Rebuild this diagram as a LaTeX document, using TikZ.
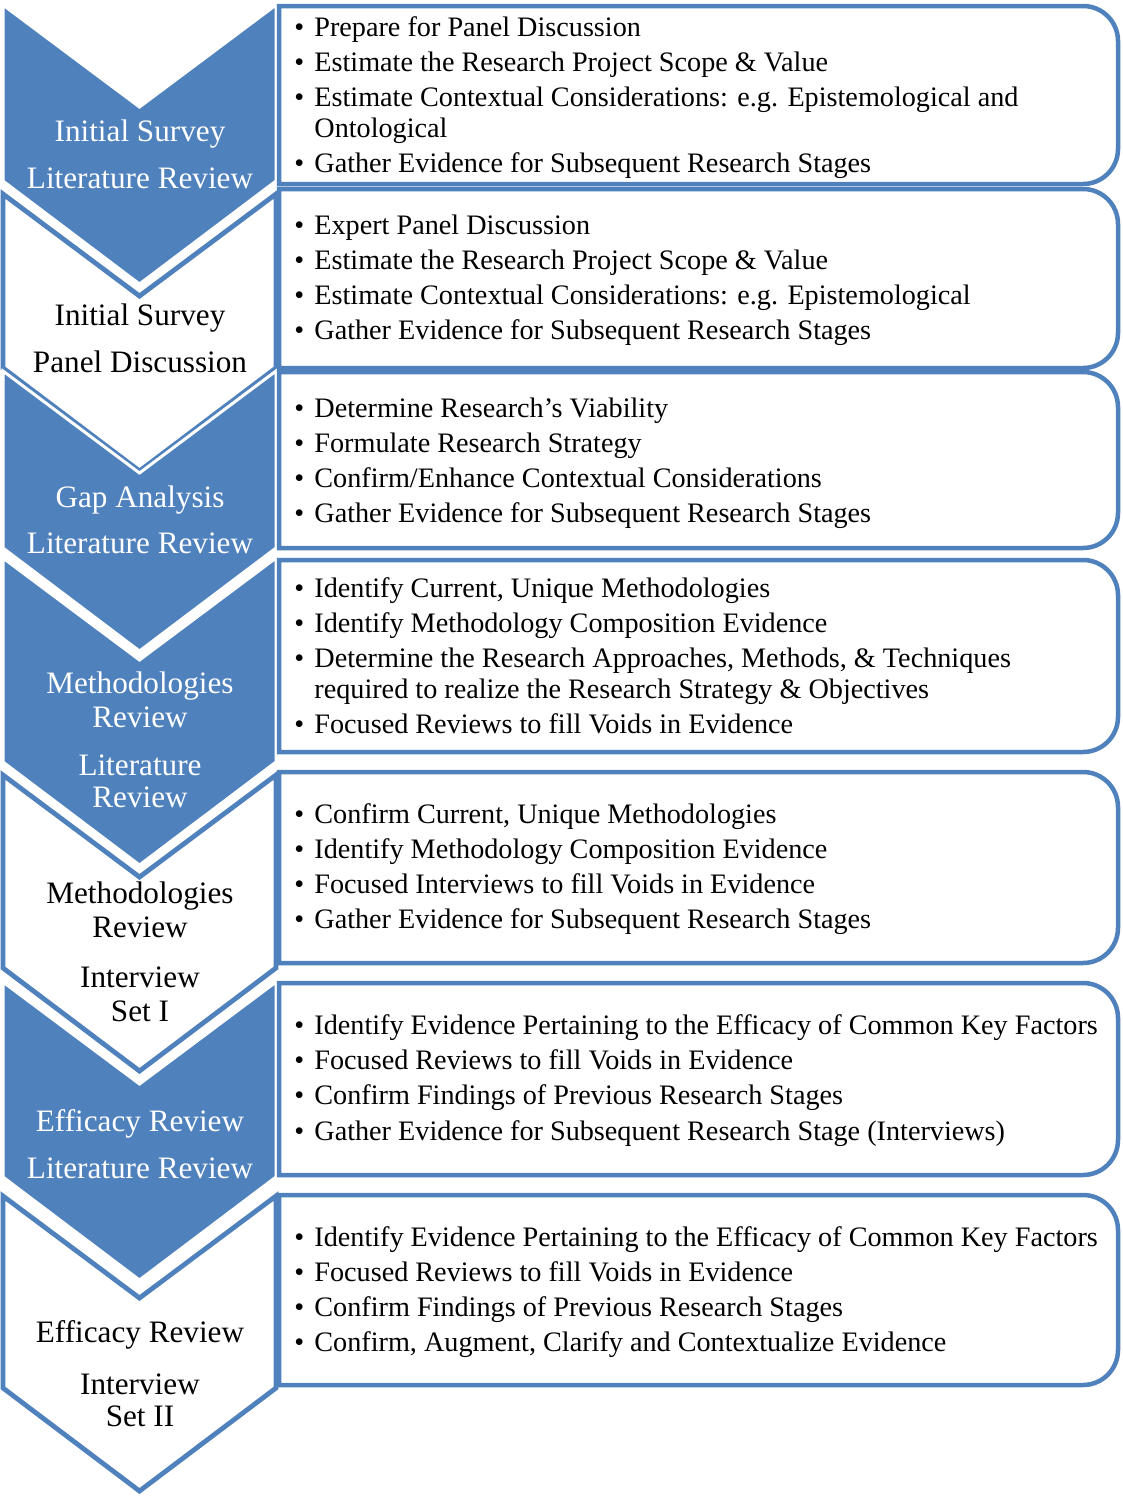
\documentclass[tikz,border=0pt]{standalone}
\usepackage{fontspec}
\setmainfont{Liberation Serif}
\definecolor{accent}{RGB}{79,129,189}
% chevron: #1 style, #2 top corner y, #3 bottom corner y
\newcommand\stagechev[3]{\path[#1] (3,#2) -- (139.5,#2+102) -- (276,#2) -- (276,#3) -- (139.5,#3+103) -- (3,#3) -- cycle;}
% text panel with rounded right corners: #1 top y, #2 bottom y
\newcommand\stagebox[2]{\path[infobox] (279,#1) -- (1083,#1) arc[start angle=-90,end angle=0,radius=35] -- (1118,#2-35) arc[start angle=0,end angle=90,radius=35] -- (279,#2) -- cycle;}
\newcommand\bl{\makebox[10pt][l]{\textbullet}}
\begin{document}
\begin{tikzpicture}[x=0.5pt,y=-0.5pt,
  bluechev/.style={fill=accent,draw=white,line width=1.5pt},
  whitechev/.style={fill=white,draw=accent,line width=2.4pt},
  infobox/.style={fill=white,draw=accent,line width=2.25pt},
  chevtext/.style={font=\fontsize{15.6}{18}\selectfont,anchor=base,inner sep=0pt},
  onblue/.style={chevtext,text=white},
  onwhite/.style={chevtext,text=black},
  item/.style={font=\fontsize{14.1}{16}\selectfont,anchor=base west,inner sep=0pt},
  cont/.style={item,xshift=10pt},
]
\useasboundingbox[fill=white] (0,0) rectangle (1123,1500);

% stage chevrons
\stagechev{bluechev}{5}{181}
\stagechev{whitechev}{194}{368}
\stagechev{bluechev}{371}{548}
\stagechev{bluechev}{558}{762}
\stagechev{whitechev}{775}{968}
\stagechev{bluechev}{982}{1177}
\stagechev{whitechev}{1196}{1388}

% detail panels
\stagebox{6}{184}
\stagebox{189}{368}
\stagebox{372}{548}
\stagebox{560}{752}
\stagebox{772}{963}
\stagebox{983}{1175}
\stagebox{1195}{1385}

% stage labels
\node[onblue]  (c1a) at (140,141) {Initial Survey};
\node[onblue]  (c1b) at (140,188) {Literature Review};
\node[onwhite] (c2a) at (140,325) {Initial Survey};
\node[onwhite] (c2b) at (140,372) {Panel Discussion};
\node[onblue]  (c3a) at (140,507) {Gap Analysis};
\node[onblue]  (c3b) at (140,553) {Literature Review};
\node[onblue]  (c4a) at (140,693) {Methodologies};
\node[onblue]  (c4b) at (140,727) {Review};
\node[onblue]  (c4c) at (140,775) {Literature};
\node[onblue]  (c4d) at (140,807) {Review};
\node[onwhite] (c5a) at (140,903) {Methodologies};
\node[onwhite] (c5b) at (140,937) {Review};
\node[onwhite] (c5c) at (140,987) {Interview};
\node[onwhite] (c5d) at (140,1021) {Set I};
\node[onblue]  (c6a) at (140,1131) {Efficacy Review};
\node[onblue]  (c6b) at (140,1178) {Literature Review};
\node[onwhite] (c7a) at (140,1342) {Efficacy Review};
\node[onwhite] (c7b) at (140,1394) {Interview};
\node[onwhite] (c7c) at (140,1426) {Set II};

% panel 1
\node[item] (b1a) at (294,36)  {\bl Prepare for Panel Discussion};
\node[item] (b1b) at (294,71)  {\bl Estimate the Research Project Scope \& Value};
\node[item] (b1c) at (294,106) {\bl Estimate Contextual Considerations: e.g. Epistemological and};
\node[cont] (b1d) at (294,137) {Ontological};
\node[item] (b1e) at (294,172) {\bl Gather Evidence for Subsequent Research Stages};
% panel 2
\node[item] (b2a) at (294,234) {\bl Expert Panel Discussion};
\node[item] (b2b) at (294,269) {\bl Estimate the Research Project Scope \& Value};
\node[item] (b2c) at (294,304) {\bl Estimate Contextual Considerations: e.g. Epistemological};
\node[item] (b2d) at (294,339) {\bl Gather Evidence for Subsequent Research Stages};
% panel 3
\node[item] (b3a) at (294,417) {\bl Determine Research’s Viability};
\node[item] (b3b) at (294,452) {\bl Formulate Research Strategy};
\node[item] (b3c) at (294,487) {\bl Confirm/Enhance Contextual Considerations};
\node[item] (b3d) at (294,522) {\bl Gather Evidence for Subsequent Research Stages};
% panel 4
\node[item] (b4a) at (294,597) {\bl Identify Current, Unique Methodologies};
\node[item] (b4b) at (294,632) {\bl Identify Methodology Composition Evidence};
\node[item] (b4c) at (294,667) {\bl Determine the Research Approaches, Methods, \& Techniques};
\node[cont] (b4d) at (294,698) {required to realize the Research Strategy \& Objectives};
\node[item] (b4e) at (294,733) {\bl Focused Reviews to fill Voids in Evidence};
% panel 5
\node[item] (b5a) at (294,823) {\bl Confirm Current, Unique Methodologies};
\node[item] (b5b) at (294,858) {\bl Identify Methodology Composition Evidence};
\node[item] (b5c) at (294,893) {\bl Focused Interviews to fill Voids in Evidence};
\node[item] (b5d) at (294,928) {\bl Gather Evidence for Subsequent Research Stages};
% panel 6
\node[item] (b6a) at (294,1034) {\bl Identify Evidence Pertaining to the Efficacy of Common Key Factors};
\node[item] (b6b) at (294,1069) {\bl Focused Reviews to fill Voids in Evidence};
\node[item] (b6c) at (294,1104) {\bl Confirm Findings of Previous Research Stages};
\node[item] (b6d) at (294,1140) {\bl Gather Evidence for Subsequent Research Stage (Interviews)};
% panel 7
\node[item] (b7a) at (294,1246) {\bl Identify Evidence Pertaining to the Efficacy of Common Key Factors};
\node[item] (b7b) at (294,1281) {\bl Focused Reviews to fill Voids in Evidence};
\node[item] (b7c) at (294,1316) {\bl Confirm Findings of Previous Research Stages};
\node[item] (b7d) at (294,1351) {\bl Confirm, Augment, Clarify and Contextualize Evidence};
\end{tikzpicture}
\end{document}
